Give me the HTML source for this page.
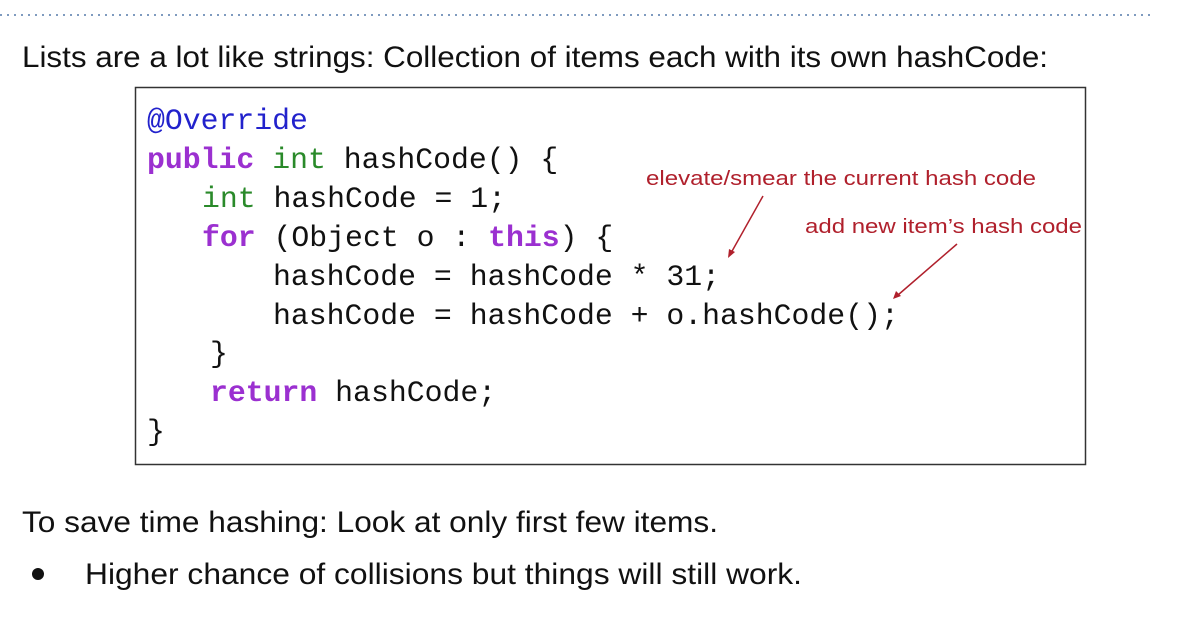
<!DOCTYPE html>
<html><head><meta charset="utf-8"><style>
html,body{margin:0;padding:0;background:#fff;width:1185px;height:619px;overflow:hidden}
svg{display:block}
.m{font-family:"Liberation Mono",monospace;font-size:29.8px;fill:#111}
.k{fill:#9b30d0;font-weight:bold}
.g{fill:#2a8a2a}
.b{fill:#2222cc}
.s{font-family:"Liberation Sans",sans-serif;font-size:30px;fill:#111}
.r{font-family:"Liberation Sans",sans-serif;font-size:20px;fill:#b0202c}
</style></head><body>
<svg width="1185" height="619" viewBox="0 0 1185 619" xmlns="http://www.w3.org/2000/svg">
<line x1="0" y1="15" x2="1150" y2="15" stroke="#7f9bbf" stroke-width="2" stroke-dasharray="2 5"/>
<text class="s" x="22" y="67" textLength="1026" lengthAdjust="spacingAndGlyphs">Lists are a lot like strings: Collection of items each with its own hashCode:</text>
<rect x="135.5" y="87.5" width="950" height="377" fill="none" stroke="#333" stroke-width="1.5"/>
<text class="m" x="147" y="129"><tspan class="b">@Override</tspan></text>
<text class="m" x="147" y="168"><tspan class="k">public</tspan> <tspan class="g">int</tspan> hashCode() {</text>
<text class="m" x="202" y="207"><tspan class="g">int</tspan> hashCode = 1;</text>
<text class="m" x="202" y="246"><tspan class="k">for</tspan> (Object o : <tspan class="k">this</tspan>) {</text>
<text class="m" x="273" y="285">hashCode = hashCode * 31;</text>
<text class="m" x="273" y="324">hashCode = hashCode + o.hashCode();</text>
<text class="m" x="210" y="362">}</text>
<text class="m" x="210" y="401"><tspan class="k">return</tspan> hashCode;</text>
<text class="m" x="147" y="440">}</text>
<text class="r" x="646" y="185" textLength="390" lengthAdjust="spacingAndGlyphs">elevate/smear the current hash code</text>
<text class="r" x="805" y="233" textLength="277" lengthAdjust="spacingAndGlyphs">add new item’s hash code</text>
<g stroke="#b0202c" stroke-width="1.5" fill="#b0202c">
<line x1="763" y1="196" x2="731" y2="253"/>
<polygon points="728,258 729,249 735,252" stroke="none"/>
<line x1="957" y1="244" x2="898" y2="295"/>
<polygon points="893,299 896,291 901,296" stroke="none"/>
</g>
<text class="s" x="22" y="532" textLength="696" lengthAdjust="spacingAndGlyphs">To save time hashing: Look at only first few items.</text>
<circle cx="38" cy="574" r="6" fill="#111"/>
<text class="s" x="85" y="584" textLength="717" lengthAdjust="spacingAndGlyphs">Higher chance of collisions but things will still work.</text>
</svg>
</body></html>
